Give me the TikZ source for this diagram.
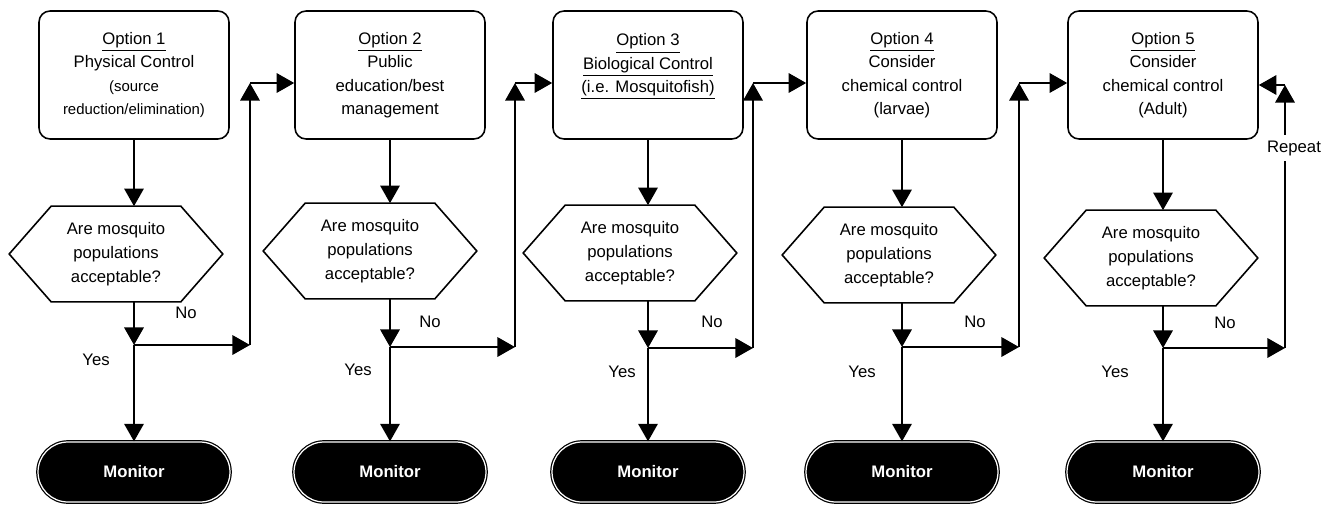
\documentclass[tikz,border=0pt]{standalone}
\usepackage{fontspec}
\setmainfont{Liberation Sans}
\usetikzlibrary{calc}
\usetikzlibrary{arrows.meta}

\tikzset{
  optbox/.style={draw, line width=0.9pt, rounded corners=0.22cm, minimum width=3.8cm,
    minimum height=2.56cm, align=center, inner sep=0pt, font=\fontsize{9.5}{13.3}\selectfont},
  hexq/.style={minimum width=4.26cm, minimum height=1.9cm, align=center, inner sep=0pt,
    font=\fontsize{9.5}{13.6}\selectfont},
  hexline/.style={line width=0.9pt},
  monpill/.style={draw=black, fill=black, double=white, double distance=0.7pt, line width=0.7pt,
    rounded corners=0.6cm, minimum width=3.84cm, minimum height=1.2cm, text=white,
    font=\bfseries\fontsize{9.5}{11}\selectfont},
  lbl/.style={inner sep=1pt, font=\fontsize{9.5}{11}\selectfont},
  flow/.style={line width=1.3pt, -{Triangle[length=10pt,width=11pt]}},
}
\newcommand{\smalltxt}{\fontsize{8.5}{13.3}\selectfont}

\begin{document}
\begin{tikzpicture}[x=0.02cm,y=-0.02cm]
                \useasboundingbox (0,0) rectangle (1329,504);

                \node[optbox] (o1) at (134,75) {\underline{Option 1}\\Physical Control\\{\smalltxt (source}\\{\smalltxt reduction/elimination)}};
                \node[optbox] (o2) at (390,75) {\underline{Option 2}\\Public\\education/best\\management};
                \node[optbox] (o3) at (648,75) {\underline{Option 3}\\\underline{Biological Control}\\\underline{(i.e. Mosquitofish)}\\~};
                \node[optbox] (o4) at (902,75) {\underline{Option 4}\\Consider\\chemical control\\(larvae)};
                \node[optbox] (o5) at (1163,75) {\underline{Option 5}\\Consider\\chemical control\\(Adult)};

                \node[hexq] (q1) at (116,254) {Are mosquito\\populations\\acceptable?};
                \node[hexq] (q2) at (370,251) {Are mosquito\\populations\\acceptable?};
                \node[hexq] (q3) at (630,253) {Are mosquito\\populations\\acceptable?};
                \node[hexq] (q4) at (889,255) {Are mosquito\\populations\\acceptable?};
                \node[hexq] (q5) at (1151,258) {Are mosquito\\populations\\acceptable?};

                \draw[hexline] (q1.west) -- ([xshift=0.84cm]q1.north west) -- ([xshift=-0.84cm]q1.north east) -- (q1.east) -- ([xshift=-0.84cm]q1.south east) -- ([xshift=0.84cm]q1.south west) -- cycle;
                \draw[hexline] (q2.west) -- ([xshift=0.84cm]q2.north west) -- ([xshift=-0.84cm]q2.north east) -- (q2.east) -- ([xshift=-0.84cm]q2.south east) -- ([xshift=0.84cm]q2.south west) -- cycle;
                \draw[hexline] (q3.west) -- ([xshift=0.84cm]q3.north west) -- ([xshift=-0.84cm]q3.north east) -- (q3.east) -- ([xshift=-0.84cm]q3.south east) -- ([xshift=0.84cm]q3.south west) -- cycle;
                \draw[hexline] (q4.west) -- ([xshift=0.84cm]q4.north west) -- ([xshift=-0.84cm]q4.north east) -- (q4.east) -- ([xshift=-0.84cm]q4.south east) -- ([xshift=0.84cm]q4.south west) -- cycle;
                \draw[hexline] (q5.west) -- ([xshift=0.84cm]q5.north west) -- ([xshift=-0.84cm]q5.north east) -- (q5.east) -- ([xshift=-0.84cm]q5.south east) -- ([xshift=0.84cm]q5.south west) -- cycle;

                \node[monpill] (m1) at (134,472) {Monitor};
                \node[monpill] (m2) at (390,472) {Monitor};
                \node[monpill] (m3) at (648,472) {Monitor};
                \node[monpill] (m4) at (902,472) {Monitor};
                \node[monpill] (m5) at (1163,472) {Monitor};

                \coordinate (j1) at (134,345);
                \coordinate (j2) at (390,347);
                \coordinate (j3) at (648,348);
                \coordinate (j4) at (902,347);
                \coordinate (j5) at (1163,348);

                \coordinate (b1) at (250,345);
                \coordinate (b2) at (515,347);
                \coordinate (b3) at (753,348);
                \coordinate (b4) at (1019,347);
                \coordinate (b5) at (1285,348);

                \coordinate (t1) at (250,83);
                \coordinate (t2) at (515,83);
                \coordinate (t3) at (753,83);
                \coordinate (t4) at (1019,83);
                \coordinate (t5) at (1285,85);

                \draw[flow] (o1.south) -- (o1.south |- q1.north);
                \draw[flow] (o2.south) -- (o2.south |- q2.north);
                \draw[flow] (o3.south) -- (o3.south |- q3.north);
                \draw[flow] (o4.south) -- (o4.south |- q4.north);
                \draw[flow] (o5.south) -- (o5.south |- q5.north);

                \draw[flow] (o1.south |- q1.south) -- (j1);
                \draw[flow] (o2.south |- q2.south) -- (j2);
                \draw[flow] (o3.south |- q3.south) -- (j3);
                \draw[flow] (o4.south |- q4.south) -- (j4);
                \draw[flow] (o5.south |- q5.south) -- (j5);

                \draw[flow] (j1) -- (m1.north);
                \draw[flow] (j2) -- (m2.north);
                \draw[flow] (j3) -- (m3.north);
                \draw[flow] (j4) -- (m4.north);
                \draw[flow] (j5) -- (m5.north);

                \draw[flow] (j1) -- (b1);
                \draw[flow] (j2) -- (b2);
                \draw[flow] (j3) -- (b3);
                \draw[flow] (j4) -- (b4);
                \draw[flow] (j5) -- (b5);

                \draw[flow] (b1) -- (t1);
                \draw[flow] (b2) -- (t2);
                \draw[flow] (b3) -- (t3);
                \draw[flow] (b4) -- (t4);
                \draw[flow] (b5) -- (t5);

                \draw[flow] (t1) -- (t1 -| o2.west);
                \draw[flow] (t2) -- (t2 -| o3.west);
                \draw[flow] (t3) -- (t3 -| o4.west);
                \draw[flow] (t4) -- (t4 -| o5.west);
                \draw[flow] (t5) -- (t5 -| o5.east);

                \node[lbl, fill=white, inner sep=3pt] (rep) at (1294,148) {Repeat};

                \node[lbl] (no1) at (186,313) {No};
                \node[lbl] (no2) at (430,322) {No};
                \node[lbl] (no3) at (712,322) {No};
                \node[lbl] (no4) at (975,322) {No};
                \node[lbl] (no5) at (1225,323) {No};

                \node[lbl] (yes1) at (96,360) {Yes};
                \node[lbl] (yes2) at (358,370) {Yes};
                \node[lbl] (yes3) at (622,372) {Yes};
                \node[lbl] (yes4) at (862,372) {Yes};
                \node[lbl] (yes5) at (1115,372) {Yes};
            \end{tikzpicture}
\end{document}
